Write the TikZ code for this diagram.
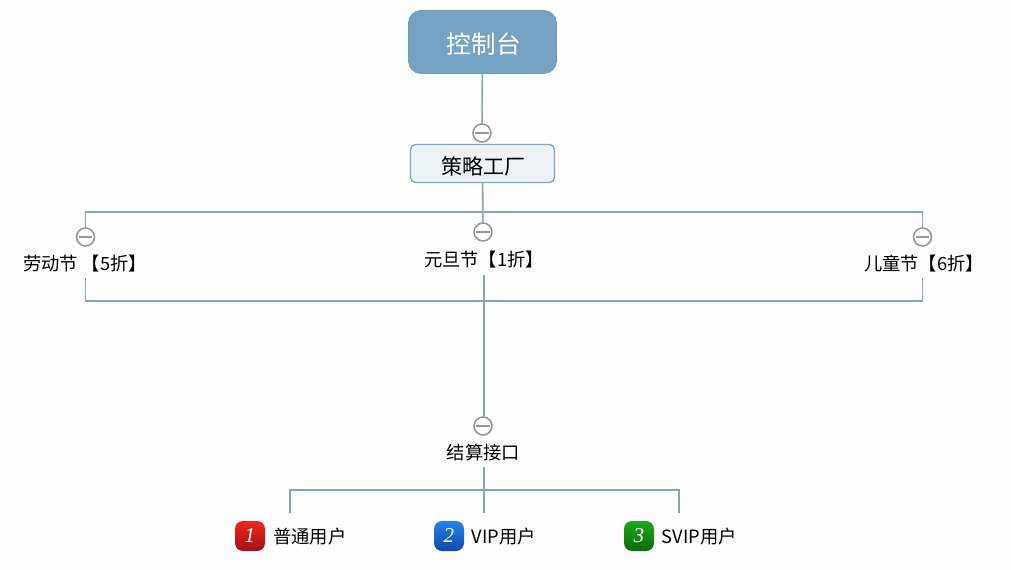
\documentclass[tikz,border=0pt]{standalone}
\usepackage{fontspec}
\setmainfont{Noto Sans CJK SC}
\newfontfamily\numfont{Liberation Serif}
\usetikzlibrary{positioning}
\definecolor{pagebg}{HTML}{FDFDFD}
\definecolor{linkblue}{HTML}{82A6BF}
\definecolor{rootblue}{HTML}{76A3C3}
\definecolor{stratfill}{HTML}{EEF3F7}
\definecolor{foldgray}{HTML}{969696}
\definecolor{redtop}{HTML}{F2281C}
\definecolor{redlow}{HTML}{A01018}
\definecolor{bluetop}{HTML}{2484EC}
\definecolor{bluelow}{HTML}{1048A8}
\definecolor{greentop}{HTML}{1EA81E}
\definecolor{greenlow}{HTML}{0A6A0A}
\begin{document}
\begin{tikzpicture}
[
rootbox/.style={rectangle, rounded corners=2.5mm, draw=rootblue!95!black, fill=rootblue, text=white, line width=0.4pt, minimum width=2.96cm, minimum height=1.26cm, text height=0.456cm, text depth=0pt, font=\fontsize{14}{16}\selectfont},
stratbox/.style={rectangle, rounded corners=1mm, draw=linkblue, fill=stratfill, line width=0.8pt, minimum width=2.88cm, minimum height=0.76cm, text height=0.42cm, text depth=0pt, font=\fontsize{12}{14}\selectfont},
textbox/.style={rectangle, inner sep=0pt, minimum height=0.56cm, font=\fontsize{10.4}{12}\selectfont},
fold/.style={circle, draw=foldgray, fill=white, line width=0.9pt, minimum size=0.36cm, inner sep=0pt},
dash line/.style={foldgray, line width=0.8pt, shorten >=0.6mm, shorten <=0.6mm},
badge/.style={rectangle, rounded corners=1.6mm, minimum size=0.6cm, inner sep=0pt, text=white, font=\numfont\itshape\fontsize{12}{12}\selectfont},
link/.style={draw=linkblue, line width=0.9pt},
]

% background
\fill[pagebg] (0,0) rectangle (20.22,-11.4);
\useasboundingbox (0,0) rectangle (20.22,-11.4);

% main nodes
\node at (9.65,-0.84) [rootbox] (console) {\hspace{0.5mm}控制台};
\node at (9.65,-3.27) [stratbox] (factory) {\hspace{0.5mm}策略工厂};

\node at (1.7,-5.28) [textbox] (labour) {劳动节 【5折】};
\node at (9.65,-5.2) [textbox, minimum height=0.58cm] (newyear) {\hspace{0.6mm}元旦节【1折】};
\node at (18.48,-5.28) [textbox] (children) {儿童节【6折】};
\node at (9.65,-9.05) [textbox] (settle) {\hspace{0.4mm}结算接口};

% fold markers
\node at (9.64,-2.66) [fold] (foldA) {};
\node at (9.66,-4.64) [fold] (foldB) {};
\node at (1.71,-4.74) [fold] (foldC) {};
\node at (18.45,-4.74) [fold] (foldD) {};
\node at (9.66,-8.52) [fold] (foldE) {};

% badges and users
\node at (5.0,-10.72) [badge, top color=redtop, bottom color=redlow] (badgeA) {1};
\node at (8.98,-10.72) [badge, top color=bluetop, bottom color=bluelow] (badgeB) {2};
\node at (12.78,-10.72) [badge, top color=greentop, bottom color=greenlow] (badgeC) {3};

\node [textbox, right=0.15cm of badgeA, yshift=-0.2mm] (userA) {普通用户};
\node [textbox, right=0.14cm of badgeB, yshift=-0.2mm] (userB) {VIP用户};
\node [textbox, right=0.14cm of badgeC, yshift=-0.2mm] (userC) {SVIP用户};

% junction points
\coordinate (busTop) at (9.65,-4.24);
\coordinate (busLow) at (9.68,-6.02);
\coordinate (busUser) at (9.68,-9.8);
\coordinate (legA) at (5.8,-10.26);
\coordinate (legB) at (9.68,-10.26);
\coordinate (legC) at (13.58,-10.26);

% connectors
\draw[link] (console) -- (foldA);
\draw[link] (factory) -- (foldB);
\draw[link] (foldC) |- (busTop);
\draw[link] (foldD) |- (busTop);

\draw[link] (labour.south -| foldC) |- (busLow);
\draw[link] (children.south -| foldD) |- (busLow);
\draw[link] (newyear.south -| busLow) -- (foldE.north -| busLow);

\draw[link] (settle.south -| legB) -- (legB);
\draw[link] (legA) |- (busUser);
\draw[link] (legC) |- (busUser);

% minus signs of the fold markers
\draw[dash line] (foldA.west) -- (foldA.east);
\draw[dash line] (foldB.west) -- (foldB.east);
\draw[dash line] (foldC.west) -- (foldC.east);
\draw[dash line] (foldD.west) -- (foldD.east);
\draw[dash line] (foldE.west) -- (foldE.east);

\end{tikzpicture}
\end{document}
